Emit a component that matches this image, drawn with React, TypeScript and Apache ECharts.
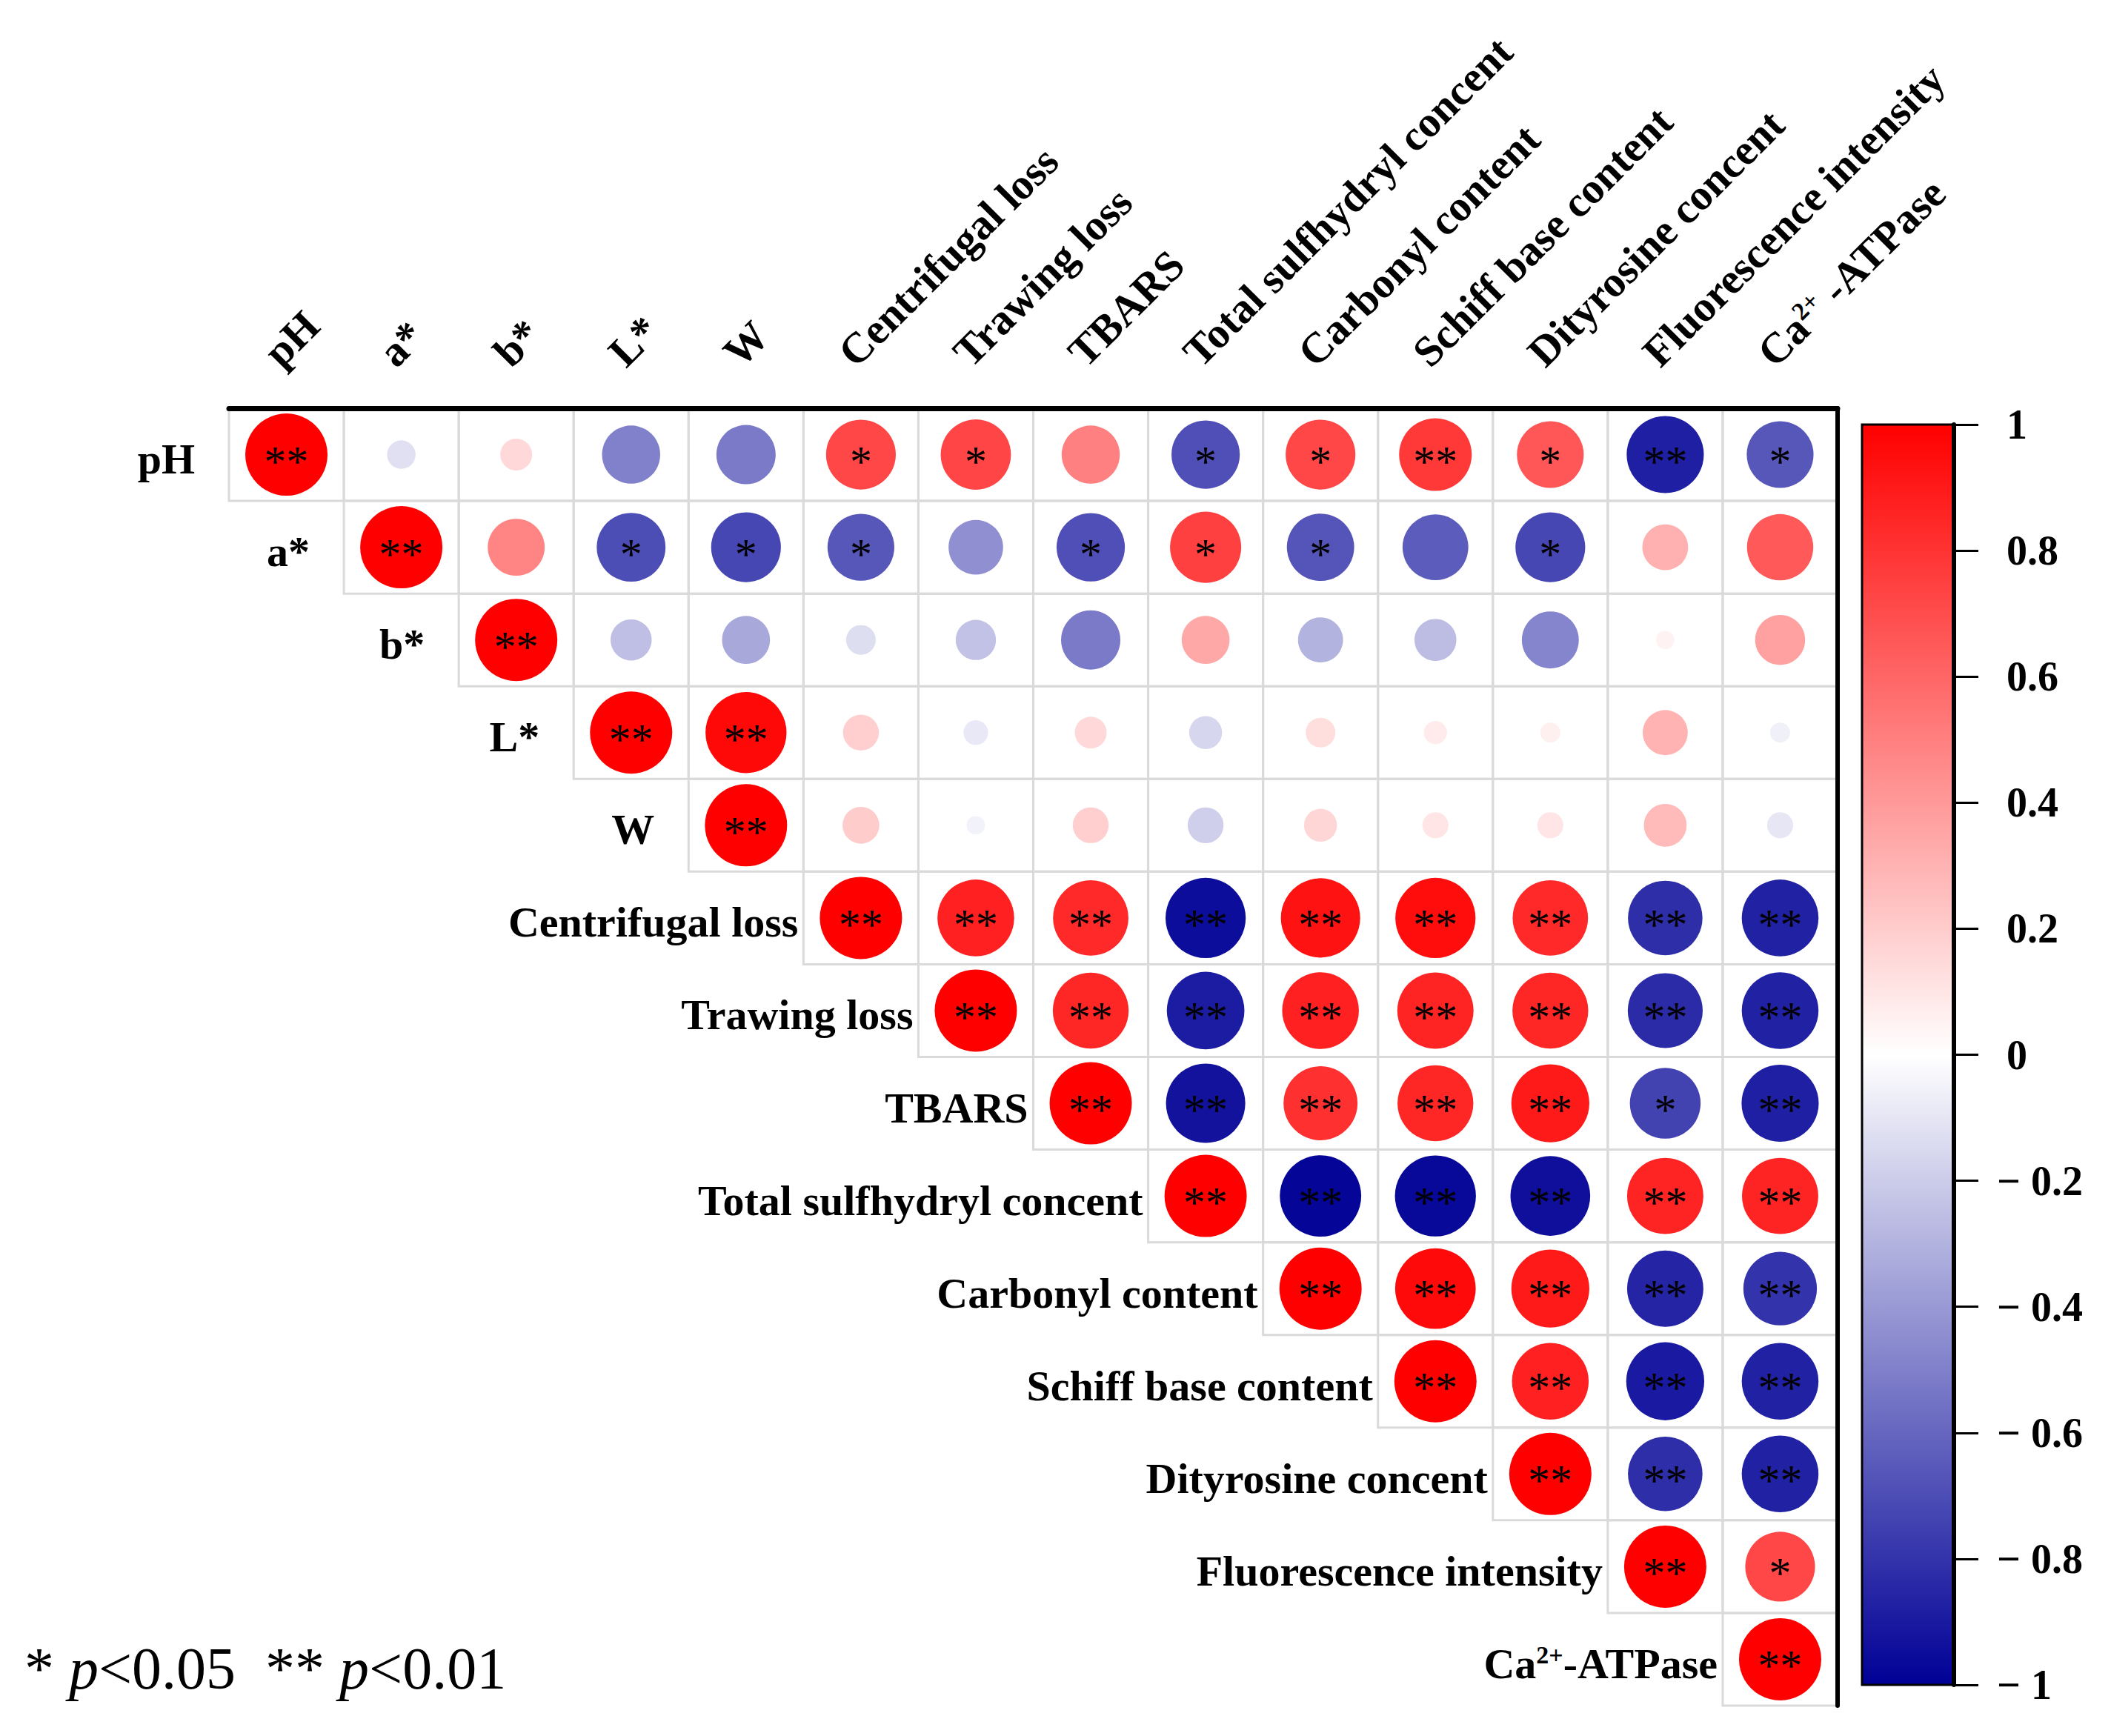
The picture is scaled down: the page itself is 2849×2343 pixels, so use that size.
import React, { useEffect, useRef } from "react";
import * as echarts from "echarts";

// ---------- data ----------
const variables = [
  "pH", "a*", "b*", "L*", "W", "Centrifugal loss", "Trawing loss", "TBARS",
  "Total sulfhydryl concent", "Carbonyl content", "Schiff base content",
  "Dityrosine concent", "Fluorescence intensity", "Ca2+-ATPase",
];

// upper-triangle correlation values, each row starting at the diagonal
const rowPH = [1, -0.12, 0.15, -0.5, -0.52, 0.72, 0.73, 0.5, -0.69, 0.72, 0.78, 0.66, -0.88, -0.66];
const rowA = [1, 0.48, -0.7, -0.72, -0.66, -0.44, -0.69, 0.75, -0.67, -0.64, -0.72, 0.31, 0.65];
const rowB = [1, -0.25, -0.34, -0.13, -0.24, -0.52, 0.34, -0.3, -0.26, -0.48, 0.05, 0.37];
const rowL = [1, 0.97, 0.19, -0.09, 0.15, -0.16, 0.13, 0.08, 0.06, 0.3, -0.06];
const rowW = [1, 0.2, -0.05, 0.19, -0.19, 0.16, 0.1, 0.1, 0.27, -0.1];
const rowCL = [1, 0.87, 0.84, -0.95, 0.93, 0.95, 0.84, -0.82, -0.87];
const rowTL = [1, 0.85, -0.89, 0.87, 0.86, 0.85, -0.83, -0.87];
const rowTB = [1, -0.93, 0.81, 0.85, 0.9, -0.74, -0.88];
const rowTS = [1, -0.98, -0.97, -0.94, 0.86, 0.86];
const rowCC = [1, 0.96, 0.9, -0.86, -0.8];
const rowSB = [1, 0.87, -0.9, -0.87];
const rowDT = [1, -0.82, -0.87];
const rowFI = [1, 0.72];
const rowCA = [1];

// significance marks
const sigPH = ["**", "", "", "", "", "*", "*", "", "*", "*", "**", "*", "**", "*"];
const sigA = ["**", "", "*", "*", "*", "", "*", "*", "*", "", "*", "", ""];
const sigB = ["**", "", "", "", "", "", "", "", "", "", "", ""];
const sigL = ["**", "**", "", "", "", "", "", "", "", "", ""];
const sigW = ["**", "", "", "", "", "", "", "", "", ""];
const sigCL = ["**", "**", "**", "**", "**", "**", "**", "**", "**"];
const sigTL = ["**", "**", "**", "**", "**", "**", "**", "**"];
const sigTB = ["**", "**", "**", "**", "**", "*", "**"];
const sigTS = ["**", "**", "**", "**", "**", "**"];
const sigCC = ["**", "**", "**", "**", "**"];
const sigSB = ["**", "**", "**", "**"];
const sigDT = ["**", "**", "**"];
const sigFI = ["**", "*"];
const sigCA = ["**"];

const corrRows = [rowPH, rowA, rowB, rowL, rowW, rowCL, rowTL, rowTB, rowTS, rowCC, rowSB, rowDT, rowFI, rowCA];
const sigRows = [sigPH, sigA, sigB, sigL, sigW, sigCL, sigTL, sigTB, sigTS, sigCC, sigSB, sigDT, sigFI, sigCA];

const colorbarTicks = [-1, -0.8, -0.6, -0.4, -0.2, 0, 0.2, 0.4, 0.6, 0.8, 1];

// ---------- styling ----------
const SERIF = "Liberation Serif";
const BLUE = "#000096";
const RED = "#ff0000";

function labelRich(v: string) {
  if (v === "Ca2+-ATPase") return "{b|Ca}{s|2+}{b|-ATPase}";
  return "{b|" + v + "}";
}
function topRich(v: string) {
  if (v === "Ca2+-ATPase") return "{b|Ca}{s|2+}{b| -ATPase}";
  return "{b|" + v + "}";
}
const richStyle = {
  b: { fontFamily: SERIF, fontWeight: "bold", fontSize: 58, color: "#000" },
  s: { fontFamily: SERIF, fontWeight: "bold", fontSize: 34, color: "#000", verticalAlign: "top" },
};

export default function App() {
  const ref = useRef<HTMLDivElement>(null);

  useEffect(() => {
    document.body.style.margin = "0";
    document.body.style.overflow = "hidden";
    const chart = echarts.init(ref.current!, null, { renderer: "svg" });

    const n = variables.length;
    const cells: number[][] = [];
    const points: any[] = [];
    for (let i = 0; i < n; i++) {
      const row = corrRows[i];
      for (let k = 0; k < row.length; k++) {
        const j = i + k;
        cells.push([j, i]);
        points.push([j, i, row[k], sigRows[i][k]]);
      }
    }
    const diagLabels = variables.map((v, i) => ({
      value: [i, i],
      name: v,
      label: { distance: v.length <= 2 ? 123 : 84 },
    }));

    const option: any = {
      animation: false,
      backgroundColor: "#ffffff",
      grid: [
        { left: 309, top: 551, width: 2171, height: 1751 },
        { left: 2513, top: 573, width: 124, height: 1701 },
      ],
      xAxis: [
        {
          type: "category",
          gridIndex: 0,
          data: variables,
          position: "top",
          boundaryGap: true,
          z: 10,
          axisLine: { show: true, lineStyle: { color: "#000", width: 7 } },
          axisTick: { show: false },
          splitLine: { show: false },
          axisLabel: {
            interval: 0,
            rotate: -45,
            margin: 46,
            align: "left",
            verticalAlign: "bottom",
            formatter: (v: string) => topRich(v),
            rich: richStyle,
          },
        },
        { type: "value", gridIndex: 1, min: 0, max: 1, show: false },
      ],
      yAxis: [
        {
          type: "category",
          gridIndex: 0,
          data: variables,
          inverse: true,
          position: "right",
          z: 10,
          axisLine: { show: true, lineStyle: { color: "#000", width: 6 } },
          axisTick: { show: false },
          axisLabel: { show: false },
          splitLine: { show: false },
        },
        {
          type: "value",
          gridIndex: 1,
          min: -1,
          max: 1,
          interval: 0.2,
          position: "right",
          z: 10,
          axisLine: { show: true, onZero: false, lineStyle: { color: "#000", width: 6 } },
          axisTick: { show: true, inside: false, length: 33, lineStyle: { color: "#000", width: 3 } },
          splitLine: { show: false },
          axisLabel: {
            margin: 58,
            formatter: (v: number) => {
              const r = Math.round(v * 10) / 10;
              if (Math.abs(r) < 1e-9) return "{p|0}";
              if (r < 0) return "{n|\u2212 " + String(-r) + "}";
              return "{p|" + String(r) + "}";
            },
            customValues: colorbarTicks,
            rich: {
              p: { fontFamily: SERIF, fontWeight: "bold", fontSize: 56, color: "#000", padding: [0, 0, 0, 13] },
              n: { fontFamily: SERIF, fontWeight: "bold", fontSize: 56, color: "#000" },
            },
          },
        },
      ],
      visualMap: {
        type: "continuous",
        show: false,
        seriesIndex: 1,
        dimension: 2,
        min: -1,
        max: 1,
        inRange: { color: [BLUE, "#ffffff", RED] },
      },
      series: [
        {
          type: "custom",
          xAxisIndex: 0,
          yAxisIndex: 0,
          data: cells,
          z: 1,
          renderItem: (params: any, api: any) => {
            const c = api.coord([api.value(0), api.value(1)]);
            const s = api.size([1, 1]);
            return {
              type: "rect",
              shape: { x: c[0] - s[0] / 2, y: c[1] - s[1] / 2, width: s[0], height: s[1] },
              style: { fill: "none", stroke: "#dadada", lineWidth: 3 },
            };
          },
        },
        {
          type: "scatter",
          xAxisIndex: 0,
          yAxisIndex: 0,
          data: points,
          z: 3,
          symbol: "circle",
          symbolSize: (v: any[]) => 111 * Math.sqrt(Math.abs(v[2])),
          itemStyle: { opacity: 1 },
          label: {
            show: true,
            position: "inside",
            formatter: (p: any) => p.value[3],
            fontFamily: SERIF,
            fontSize: 60,
            color: "#000",
            opacity: 1,
            offset: [0, 9],
          },
          emphasis: { disabled: true },
        },
        {
          type: "scatter",
          xAxisIndex: 0,
          yAxisIndex: 0,
          data: diagLabels,
          z: 4,
          symbol: "rect",
          symbolSize: 1,
          itemStyle: { color: "rgba(0,0,0,0)", opacity: 1 },
          label: {
            show: true,
            position: "left",
            opacity: 1,
            formatter: (p: any) => labelRich(p.name),
            rich: richStyle,
            offset: [0, 6],
          },
          emphasis: { disabled: true },
        },
        {
          type: "custom",
          xAxisIndex: 1,
          yAxisIndex: 1,
          data: [[0, 1, 1, -1]],
          z: 2,
          renderItem: (params: any, api: any) => {
            const p0 = api.coord([api.value(0), api.value(1)]);
            const p1 = api.coord([api.value(2), api.value(3)]);
            return {
              type: "rect",
              shape: { x: p0[0], y: p0[1], width: p1[0] - p0[0], height: p1[1] - p0[1] },
              style: {
                fill: new echarts.graphic.LinearGradient(0, 0, 0, 1, [
                  { offset: 0, color: RED },
                  { offset: 0.5, color: "#ffffff" },
                  { offset: 1, color: BLUE },
                ]),
                stroke: "#000",
                lineWidth: 3,
              },
            };
          },
        },
      ],
      graphic: [
        {
          type: "text",
          style: {
            x: 33,
            y: 2252,
            verticalAlign: "middle",
            align: "left",
            text: "{n|* }{i|p}{n|<0.05  ** }{i|p}{n|<0.01}",
            rich: {
              n: { fontFamily: SERIF, fontSize: 80, color: "#000" },
              i: { fontFamily: SERIF, fontSize: 80, fontStyle: "italic", color: "#000" },
            },
          },
        },
      ],
    };

    chart.setOption(option);
    return () => chart.dispose();
  }, []);

  return <div ref={ref} style={{ width: 2849, height: 2343 }} />;
}
